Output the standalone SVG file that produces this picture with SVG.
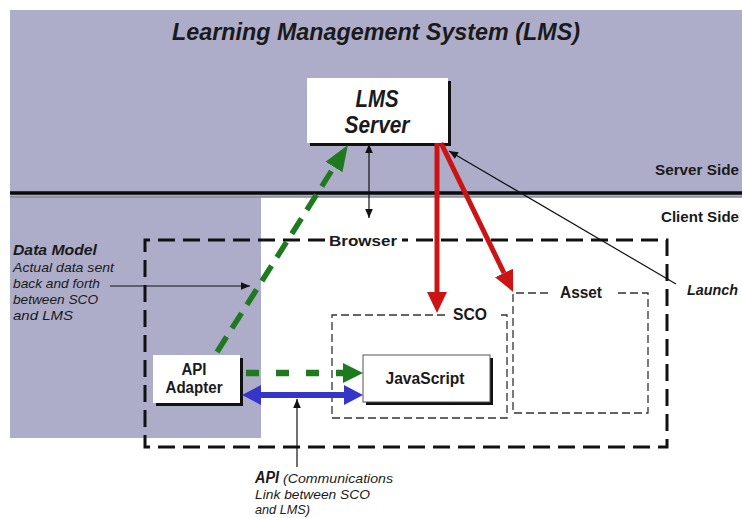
<svg xmlns="http://www.w3.org/2000/svg" width="742" height="518" viewBox="0 0 742 518">
<style>
.t{font-family:"Liberation Sans",Arial,sans-serif;fill:#1a1a1a}
.b{font-weight:bold}
.i{font-style:italic}
.box{fill:#fff}
.shadow{fill:#111}
.bd{fill:none;stroke:#111;stroke-width:3;stroke-dasharray:17 8}
.td{fill:none;stroke:#333;stroke-width:1.3;stroke-dasharray:8 4}
.thin{fill:none;stroke:#111;stroke-width:1.2}
</style>
<defs>
<marker id="ah" markerUnits="userSpaceOnUse" markerWidth="12" markerHeight="10" viewBox="-1 -5 11 10" refX="9" refY="0" orient="auto-start-reverse"><path d="M0,-3.8 L9,0 L0,3.8 Z" fill="#111"/></marker>
<marker id="ahG" markerUnits="userSpaceOnUse" markerWidth="30" markerHeight="26" viewBox="0 -13 30 26" refX="0" refY="0" orient="auto"><path d="M0,-10 L26,0 L0,10 Z" fill="#1f7a1f"/></marker>
<marker id="ahGh" markerUnits="userSpaceOnUse" markerWidth="24" markerHeight="24" viewBox="0 -12 24 24" refX="0" refY="0" orient="auto"><path d="M0,-10 L20,0 L0,10 Z" fill="#1f7a1f"/></marker>
<marker id="ahR" markerUnits="userSpaceOnUse" markerWidth="26" markerHeight="24" viewBox="0 -12 26 24" refX="0" refY="0" orient="auto"><path d="M0,-10 L21,0 L0,10 Z" fill="#cc1414"/></marker>
<marker id="ahB" markerUnits="userSpaceOnUse" markerWidth="22" markerHeight="24" viewBox="0 -12 22 24" refX="0" refY="0" orient="auto-start-reverse"><path d="M0,-10 L19,0 L0,10 Z" fill="#3535c8"/></marker>
</defs>
<rect x="0" y="0" width="742" height="518" fill="#fff"/>
<g id="background">
<rect x="10" y="10" width="732" height="187" fill="#adadca"/>
<rect x="10" y="196" width="251" height="242" fill="#adadca"/>
<line x1="10" y1="193" x2="742" y2="193" stroke="#0a0a0a" stroke-width="3.5"/>
<line x1="10" y1="197" x2="742" y2="197" stroke="#8a8a96" stroke-width="1.5"/>
</g>
<text class="t b i" x="376" y="40" font-size="23" text-anchor="middle" textLength="408" lengthAdjust="spacingAndGlyphs">Learning Management System (LMS)</text>
<text class="t b" x="739" y="175" font-size="15" text-anchor="end" textLength="84" lengthAdjust="spacingAndGlyphs">Server Side</text>
<text class="t b" x="739" y="222" font-size="15" text-anchor="end" textLength="78" lengthAdjust="spacingAndGlyphs">Client Side</text>
<g id="browser">
<path class="bd" d="M325,240 H145 V447 H667 V240 H402"/>
<text class="t b" x="363" y="246" font-size="15" text-anchor="middle" textLength="68" lengthAdjust="spacingAndGlyphs">Browser</text>
</g>
<g id="sco">
<path class="td" d="M445,315 H332 V418 H507 V315 H497"/>
<text class="t b" x="470" y="320" font-size="16" text-anchor="middle" textLength="34" lengthAdjust="spacingAndGlyphs">SCO</text>
</g>
<g id="asset">
<path class="td" d="M548,293 H513 V413 H648 V293 H618"/>
<text class="t b" x="581" y="298" font-size="16" text-anchor="middle" textLength="42" lengthAdjust="spacingAndGlyphs">Asset</text>
</g>
<g id="lms-server">
<rect class="shadow" x="310" y="81" width="141" height="65"/>
<rect class="box" x="307" y="78" width="141" height="65"/>
<text class="t b i" x="377" y="107" font-size="23" text-anchor="middle" textLength="43" lengthAdjust="spacingAndGlyphs">LMS</text>
<text class="t b i" x="377" y="133" font-size="23" text-anchor="middle" textLength="65" lengthAdjust="spacingAndGlyphs">Server</text>
</g>
<g id="javascript">
<rect class="shadow" x="366" y="358" width="127" height="47"/>
<rect class="box" x="363" y="355" width="127" height="47" stroke="#555" stroke-width="1"/>
<text class="t b" x="425" y="384" font-size="16" text-anchor="middle" textLength="79" lengthAdjust="spacingAndGlyphs">JavaScript</text>
</g>
<g id="api-adapter">
<rect class="shadow" x="156" y="358" width="87" height="48"/>
<rect class="box" x="153" y="355" width="87" height="48"/>
<text class="t b" x="194" y="375" font-size="16" text-anchor="middle" textLength="25" lengthAdjust="spacingAndGlyphs">API</text>
<text class="t b" x="194" y="393" font-size="16" text-anchor="middle" textLength="57" lengthAdjust="spacingAndGlyphs">Adapter</text>
</g>
<g id="data-model-label">
<text class="t b i" x="13" y="255" font-size="15" textLength="84" lengthAdjust="spacingAndGlyphs">Data Model</text>
<text class="t i" x="13" y="272" font-size="13.5" textLength="101" lengthAdjust="spacingAndGlyphs">Actual data sent</text>
<text class="t i" x="13" y="288" font-size="13.5" textLength="87" lengthAdjust="spacingAndGlyphs">back and forth</text>
<text class="t i" x="13" y="304" font-size="13.5" textLength="85" lengthAdjust="spacingAndGlyphs">between SCO</text>
<text class="t i" x="13" y="320" font-size="13.5" textLength="60" lengthAdjust="spacingAndGlyphs">and LMS</text>
</g>
<g id="api-label">
<text class="t b i" x="255" y="483" font-size="16" textLength="24" lengthAdjust="spacingAndGlyphs">API</text>
<text class="t i" x="283" y="483" font-size="13.5" textLength="110" lengthAdjust="spacingAndGlyphs">(Communications</text>
<text class="t i" x="255" y="499" font-size="13.5" textLength="115" lengthAdjust="spacingAndGlyphs">Link between SCO</text>
<text class="t i" x="255" y="514" font-size="13" textLength="55" lengthAdjust="spacingAndGlyphs">and LMS)</text>
</g>
<g id="launch-label">
<text class="t b i" x="687" y="295" font-size="15" textLength="51" lengthAdjust="spacingAndGlyphs">Launch</text>
</g>
<g id="connectors">
<line x1="217" y1="352" x2="334" y2="167" stroke="#1f7a1f" stroke-width="5.5" stroke-dasharray="18 10" marker-end="url(#ahG)"/>
<line x1="243" y1="373" x2="343" y2="373" stroke="#1f7a1f" stroke-width="6.5" stroke-dasharray="13 17" stroke-dashoffset="-3" marker-end="url(#ahGh)"/>
<line x1="261" y1="395" x2="344" y2="395" stroke="#3535c8" stroke-width="6" marker-start="url(#ahB)" marker-end="url(#ahB)"/>
<line x1="437" y1="143" x2="437" y2="292" stroke="#cc1414" stroke-width="5" marker-end="url(#ahR)"/>
<line x1="441" y1="143" x2="504" y2="273" stroke="#cc1414" stroke-width="5" marker-end="url(#ahR)"/>
<line class="thin" x1="369" y1="144" x2="369" y2="218" marker-start="url(#ah)" marker-end="url(#ah)"/>
<line class="thin" x1="676" y1="284" x2="449" y2="151" marker-end="url(#ah)"/>
<line class="thin" x1="110" y1="286" x2="250" y2="286" marker-end="url(#ah)"/>
<line class="thin" x1="297" y1="467" x2="297" y2="399" marker-end="url(#ah)"/>
</g>
</svg>
